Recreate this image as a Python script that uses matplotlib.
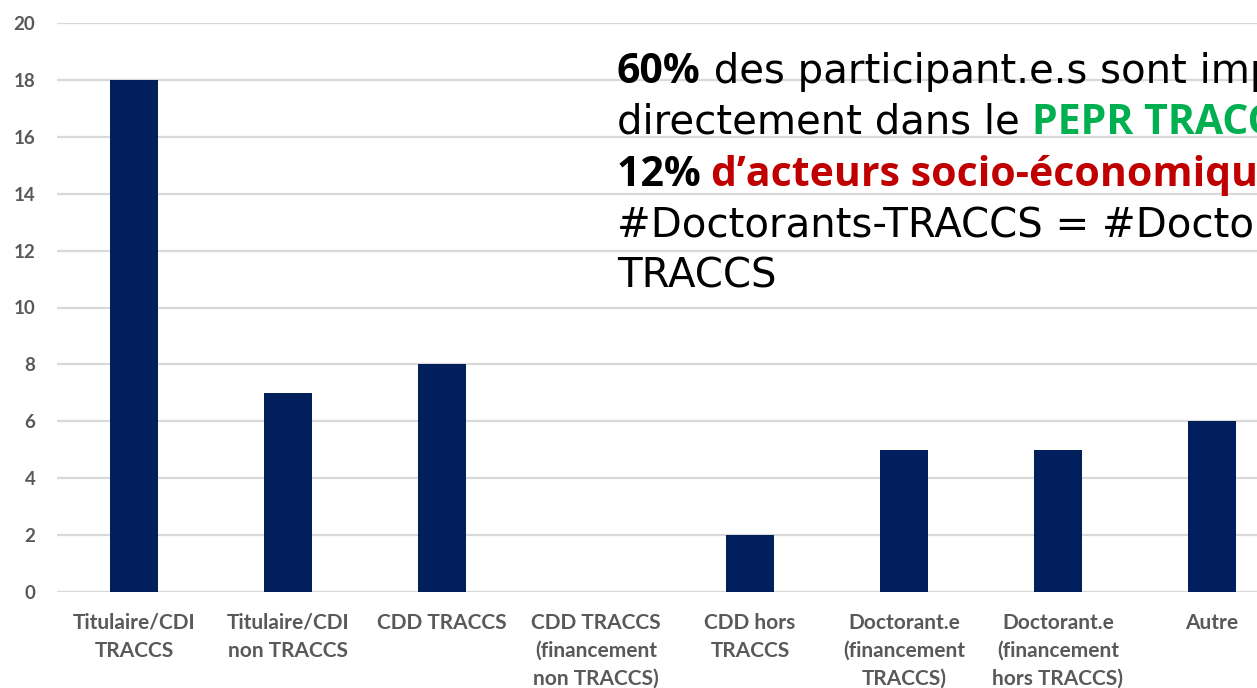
import matplotlib
matplotlib.use('Agg')
import matplotlib.pyplot as plt

# Données
categories = ['Titulaire/CDI\nTRACCS', 'Titulaire/CDI\nnon TRACCS', 'CDD TRACCS',
              'CDD TRACCS\n(financement\nnon TRACCS)', 'CDD hors\nTRACCS',
              'Doctorant.e\n(financement\nTRACCS)', 'Doctorant.e\n(financement\nhors TRACCS)', 'Autre']
effectifs = [18, 7, 8, 0, 2, 5, 5, 6]
yticks = [0, 2, 4, 6, 8, 10, 12, 14, 16, 18, 20]

W, H = 1257, 688
fig = plt.figure(figsize=(W / 100, H / 100), dpi=100)
ax = fig.add_axes([57 / W, (H - 592) / H, (W - 57) / W, (592 - 23) / H])

x = list(range(len(categories)))
ax.bar(x, effectifs, width=0.31, color='#001f5c', zorder=3)
ax.set_ylim(0, 20)
ax.set_xlim(-0.5, (W - 134) / 154)
ax.set_yticks(yticks)
ax.set_xticks(x)
ax.set_xticklabels(categories, fontfamily='Lato', fontweight='bold', fontsize=15,
                   color='#595959', linespacing=1.5)
for lab in ax.get_yticklabels():
    lab.set_fontfamily('Lato')
    lab.set_fontweight('bold')
    lab.set_fontsize(13.5)
    lab.set_color('#595959')
ax.tick_params(axis='y', length=0, pad=15.5)
ax.tick_params(axis='x', length=0, pad=15)
ax.grid(axis='y', color='#d9d9d9', linewidth=1.6, zorder=0)
for s in ax.spines.values():
    s.set_visible(False)

# Texte superposé (couleurs mixtes)
lignes = [
    [('60%', 'black', 'bold'), (' des participant.e.s sont impliqué.e.s', 'black', 'normal')],
    [('directement dans le ', 'black', 'normal'), ('PEPR TRACCS', '#00b050', 'bold')],
    [('12% ', 'black', 'bold'), ('d\u2019acteurs socio-économiques', '#c00000', 'bold')],
    [('#Doctorants-TRACCS = #Doctorants hors', 'black', 'normal')],
    [('TRACCS', 'black', 'normal')],
]
baselines = [83, 134, 186, 237, 287]
fig.canvas.draw()
renderer = fig.canvas.get_renderer()
for ligne, yb in zip(lignes, baselines):
    xpos = 617
    for texte, couleur, poids in ligne:
        if poids == 'bold':
            famille, taille = 'Open Sans', 29.5
        else:
            famille, taille = 'DejaVu Sans', 29
        t = fig.text(xpos / W, (H - yb) / H, texte, color=couleur, fontweight=poids,
                     fontsize=taille, fontfamily=famille, va='baseline', ha='left')
        bb = t.get_window_extent(renderer)
        xpos += bb.width

fig.savefig('out.png', dpi=100)
